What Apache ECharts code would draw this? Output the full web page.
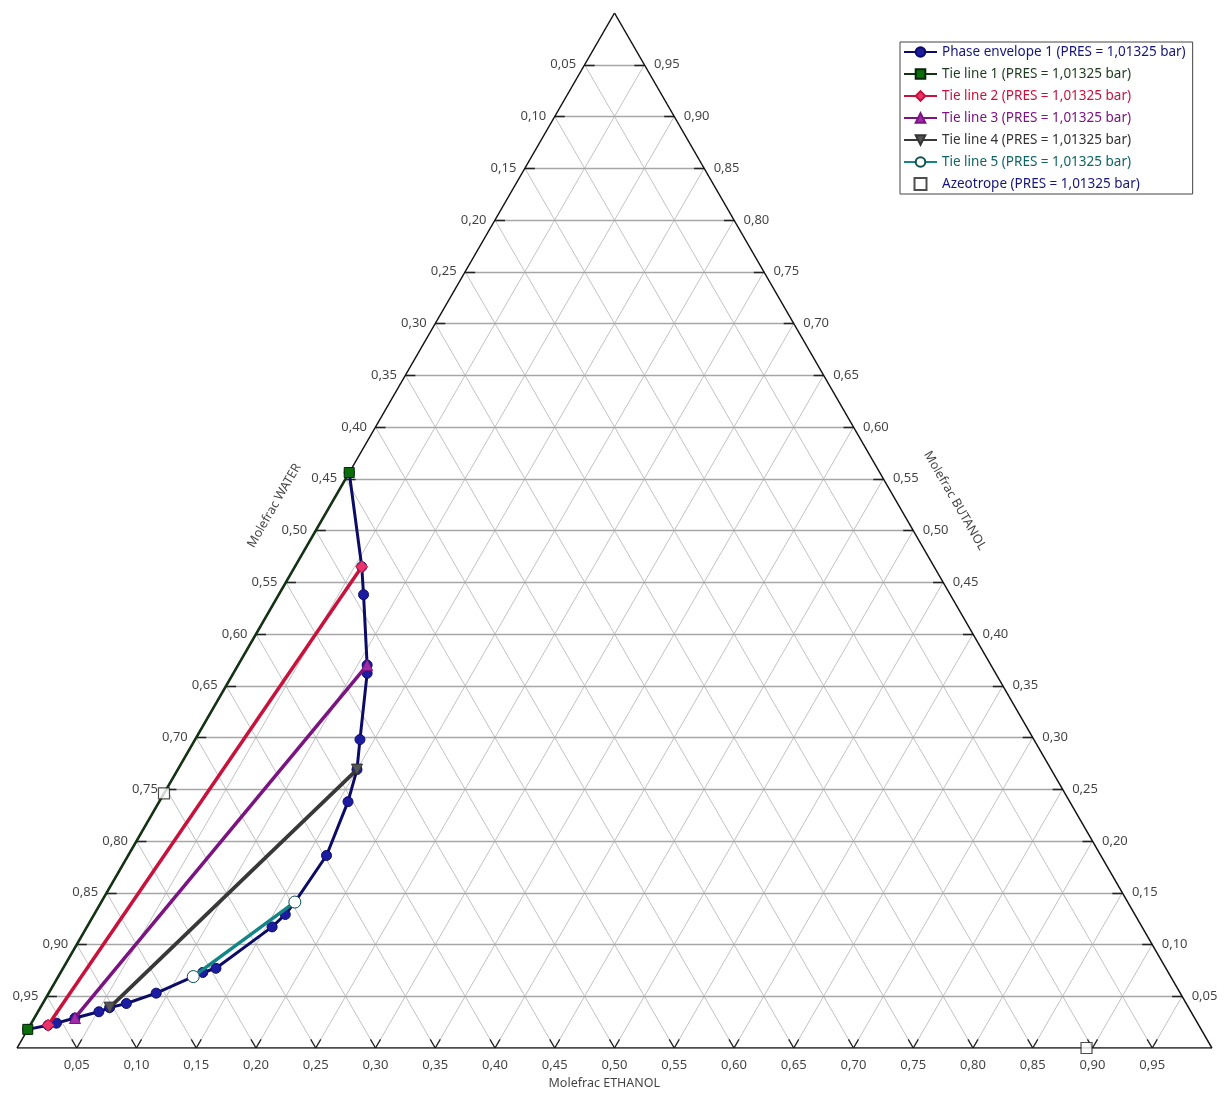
<!DOCTYPE html>
<html>
<head>
<meta charset="utf-8">
<title>Ternary diagram WATER / ETHANOL / BUTANOL</title>
<script src="https://cdn.jsdelivr.net/npm/echarts@6/dist/echarts.min.js"></script>
<style>
  html, body { margin: 0; padding: 0; background: #fff; }
  #main { width: 1227px; height: 1095px; }
</style>
</head>
<body>
<div id="main"></div>
<script>
// tick values, same on all three edges
var tickVals = [0.05, 0.10, 0.15, 0.20, 0.25, 0.30, 0.35, 0.40, 0.45, 0.50,
                0.55, 0.60, 0.65, 0.70, 0.75, 0.80, 0.85, 0.90, 0.95];

// phase envelope (molefrac ethanol / butanol, water is the rest)
var envEthanol = [0.000, 0.015, 0.021, 0.034, 0.051, 0.058, 0.070, 0.090, 0.113, 0.119, 0.128, 0.155,
                  0.160, 0.162, 0.166, 0.158, 0.150, 0.138, 0.112, 0.108, 0.071, 0.056, 0.000];
var envButanol = [0.018, 0.022, 0.024, 0.029, 0.035, 0.039, 0.043, 0.053, 0.069, 0.073, 0.077, 0.117,
                  0.129, 0.141, 0.186, 0.238, 0.269, 0.298, 0.362, 0.370, 0.438, 0.465, 0.556];

// tie lines, two ends each
var tie1Ethanol = [0.000, 0.000], tie1Butanol = [0.018, 0.556];
var tie2Ethanol = [0.015, 0.056], tie2Butanol = [0.022, 0.465];
var tie3Ethanol = [0.034, 0.108], tie3Butanol = [0.029, 0.370];
var tie4Ethanol = [0.058, 0.150], tie4Butanol = [0.039, 0.269];
var tie5Ethanol = [0.113, 0.162], tie5Butanol = [0.069, 0.141];

// azeotropes
var azeoEthanol = [0.000, 0.895];
var azeoButanol = [0.246, 0.000];

var PRES = ' (PRES = 1,01325 bar)';

// ternary -> cartesian (water bottom-left, ethanol bottom-right, butanol top)
function tern(e, b) { return [e + b / 2, b]; }
function pts(es, bs) { return es.map(function (e, i) { return tern(e, bs[i]); }); }
function fmt(v) { return v.toFixed(2).replace('.', ','); }

var T = 0.0084; // tick length
var hLines = [], dLines = [], ticks = [], edges = [];
var bottomLbl = [], leftLbl = [], rightLbl = [];
tickVals.forEach(function (k) {
  hLines.push({ coords: [tern(0, k), tern(1 - k, k)] });
  dLines.push({ coords: [tern(k, 0), tern(k, 1 - k)] });
  dLines.push({ coords: [tern(1 - k, 0), tern(0, 1 - k)] });
  ticks.push({ coords: [[k / 2, k], [k / 2 + T, k]] });
  ticks.push({ coords: [[1 - k / 2, k], [1 - k / 2 - T, k]] });
  ticks.push({ coords: [[k, 0], [k - T / 2, T]] });
  ticks.push({ coords: [[k, 0], [k + T / 2, T]] });
  bottomLbl.push({ value: [k, 0], name: fmt(k) });
  leftLbl.push({ value: [k / 2, k], name: fmt(1 - k) });
  rightLbl.push({ value: [1 - k / 2, k], name: fmt(k) });
});
edges.push({ coords: [tern(0, 0), tern(1, 0)] });
edges.push({ coords: [tern(1, 0), tern(0, 1)] });
edges.push({ coords: [tern(0, 1), tern(0, 0)] });

var FONT = 'Noto Sans';
var lblStyle = { show: true, formatter: '{b}', fontFamily: FONT, fontSize: 13, color: '#111' };

function labelSeries(data, pos, dist) {
  return {
    type: 'scatter', data: data, symbolSize: 1, silent: true, clip: false,
    itemStyle: { color: 'rgba(0,0,0,0)' },
    label: Object.assign({}, lblStyle, { position: pos, distance: dist })
  };
}

// axis titles, pushed out from the middle of each edge
var off = 0.04;
var titles = [
  { value: [0.25 - off * 0.866, 0.5 + off * 0.6], name: 'Molefrac WATER', label: { rotate: 60 } },
  { value: [0.75 + off * 0.87, 0.5 + off * 0.72], name: 'Molefrac BUTANOL', label: { rotate: -60 } },
  { value: [0.4915, -0.034], name: 'Molefrac ETHANOL', label: { rotate: 0 } }
];

function tieSeries(name, es, bs, lineColor, width, sym, symSize, fill, border, rot) {
  return {
    name: name, type: 'line', data: pts(es, bs),
    symbol: sym, symbolSize: symSize, symbolRotate: rot || 0, showAllSymbol: true,
    lineStyle: { color: lineColor, width: width },
    itemStyle: { color: fill, borderColor: border, borderWidth: 1 },
    z: 5
  };
}

var chart = echarts.init(document.getElementById('main'));
chart.setOption({
  animation: false,
  backgroundColor: '#fff',
  grid: { left: 17, top: 13, width: 1195, height: 1035 },
  xAxis: { type: 'value', min: 0, max: 1, show: false },
  yAxis: { type: 'value', min: 0, max: 1, show: false },
  legend: {
    orient: 'vertical', left: 900, top: 42,
    backgroundColor: '#fff', borderColor: '#444', borderWidth: 1,
    padding: [3, 7, 3, 3], itemWidth: 33, itemHeight: 12, itemGap: 8,
    textStyle: { fontFamily: FONT, fontSize: 13.5, lineHeight: 14 },
    data: [
      { name: 'Phase envelope 1' + PRES, textStyle: { color: '#16167a' } },
      { name: 'Tie line 1' + PRES, textStyle: { color: '#1d3a1d' } },
      { name: 'Tie line 2' + PRES, textStyle: { color: '#c8123c' } },
      { name: 'Tie line 3' + PRES, textStyle: { color: '#7b1480' } },
      { name: 'Tie line 4' + PRES, textStyle: { color: '#333333' } },
      { name: 'Tie line 5' + PRES, textStyle: { color: '#0f6464' } },
      { name: 'Azeotrope' + PRES, icon: 'path://M0,0H10V10H0Z', textStyle: { color: '#16167a' } }
    ]
  },
  series: [
    { type: 'lines', coordinateSystem: 'cartesian2d', data: dLines, silent: true,
      lineStyle: { color: '#c2c2c2', width: 1, opacity: 1 } },
    { type: 'lines', coordinateSystem: 'cartesian2d', data: hLines, silent: true,
      lineStyle: { color: '#a6a6a6', width: 1.3, opacity: 1 } },
    { type: 'lines', coordinateSystem: 'cartesian2d', data: ticks, silent: true,
      lineStyle: { color: '#222', width: 1.3, opacity: 1 } },
    { type: 'lines', coordinateSystem: 'cartesian2d', data: edges, silent: true,
      lineStyle: { color: '#111', width: 1.5, opacity: 1 } },
    labelSeries(bottomLbl, 'bottom', 10),
    labelSeries(leftLbl, 'left', 8),
    labelSeries(rightLbl, 'right', 9),
    {
      type: 'scatter', data: titles, symbolSize: 1, silent: true, clip: false,
      itemStyle: { color: 'rgba(0,0,0,0)' },
      label: Object.assign({}, lblStyle, { fontSize: 12.5, position: 'inside', align: 'center', verticalAlign: 'middle' })
    },
    {
      name: 'Phase envelope 1' + PRES, type: 'line', data: pts(envEthanol, envButanol),
      symbol: 'circle', symbolSize: 10, showAllSymbol: true,
      lineStyle: { color: '#0c0c66', width: 3 },
      itemStyle: { color: '#1c1ca0', borderColor: '#0c0c66', borderWidth: 1 },
      z: 4
    },
    tieSeries('Tie line 1' + PRES, tie1Ethanol, tie1Butanol, '#143214', 2.6, 'rect', 10, '#0a6e0a', '#042604'),
    tieSeries('Tie line 2' + PRES, tie2Ethanol, tie2Butanol, '#c8123c', 3.5, 'diamond', 12, '#e8336b', '#c8123c'),
    tieSeries('Tie line 3' + PRES, tie3Ethanol, tie3Butanol, '#7b1480', 3.5, 'triangle', 11, '#a02aa8', '#7b1480'),
    tieSeries('Tie line 4' + PRES, tie4Ethanol, tie4Butanol, '#383838', 3.8, 'triangle', 11, '#555555', '#333333', 180),
    tieSeries('Tie line 5' + PRES, tie5Ethanol, tie5Butanol, '#138585', 3.5, 'circle', 12, '#ffffff', '#0d5050'),
    {
      name: 'Azeotrope' + PRES, type: 'scatter', data: pts(azeoEthanol, azeoButanol),
      symbol: 'rect', symbolSize: 11, clip: false,
      itemStyle: { color: '#ffffff', borderColor: '#222', borderWidth: 1.2 },
      z: 6
    }
  ]
});
</script>
</body>
</html>
